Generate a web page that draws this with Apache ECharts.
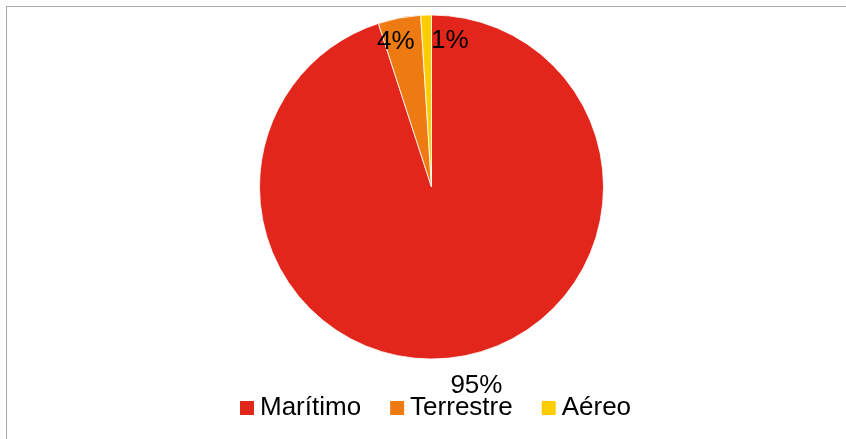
<!DOCTYPE html>
<html>
<head>
<meta charset="utf-8">
<script src="https://cdn.jsdelivr.net/npm/echarts@6/dist/echarts.min.js"></script>
<style>
  html, body { margin: 0; padding: 0; background: #ffffff; }
  #chart { position: absolute; left: 0; top: 0; width: 846px; height: 439px; }
  #frame { position: absolute; left: 6px; top: 6px; right: -2px; bottom: -2px;
           border-top: 1.5px solid #a9a9a9; border-left: 1.5px solid #a9a9a9; pointer-events: none; }
</style>
</head>
<body>
<div id="chart"></div>
<div id="frame"></div>
<script>
const categories = ['Marítimo', 'Terrestre', 'Aéreo'];
const values = [95, 4, 1];
const colors = ['#e2261b', '#ee7b12', '#ffcc00'];
// label nudges (pixels) relative to ECharts' inside-label position
const labelShiftX = [31, -19, 21];
const labelShiftY = [111, -58, -57];

const chart = echarts.init(document.getElementById('chart'), null, { renderer: 'canvas' });
const FONT = '"Liberation Sans", Arial, sans-serif';

chart.setOption({
  animation: false,
  legend: {
    data: categories,
    left: 235,
    top: 390,
    orient: 'horizontal',
    icon: 'rect',
    itemWidth: 14,
    itemHeight: 14,
    itemGap: 29,
    textStyle: { fontFamily: FONT, fontSize: 26, color: '#000', padding: [0, 0, 0, 1] },
    itemStyle: { borderWidth: 0 }
  },
  series: [{
    type: 'pie',
    center: [431.5, 187],
    radius: 172,
    startAngle: 90,
    clockwise: true,
    avoidLabelOverlap: false,
    itemStyle: { borderColor: '#ffffff', borderWidth: 0.8 },
    label: {
      show: true,
      position: 'inside',
      formatter: '{d}%',
      fontFamily: FONT,
      fontSize: 26,
      color: '#000'
    },
    labelLine: { show: false },
    labelLayout: function (p) {
      return { dx: labelShiftX[p.dataIndex], dy: labelShiftY[p.dataIndex] };
    },
    emphasis: { disabled: true },
    data: categories.map((c, i) => ({ name: c, value: values[i], itemStyle: { color: colors[i] } }))
  }]
});
</script>
</body>
</html>
